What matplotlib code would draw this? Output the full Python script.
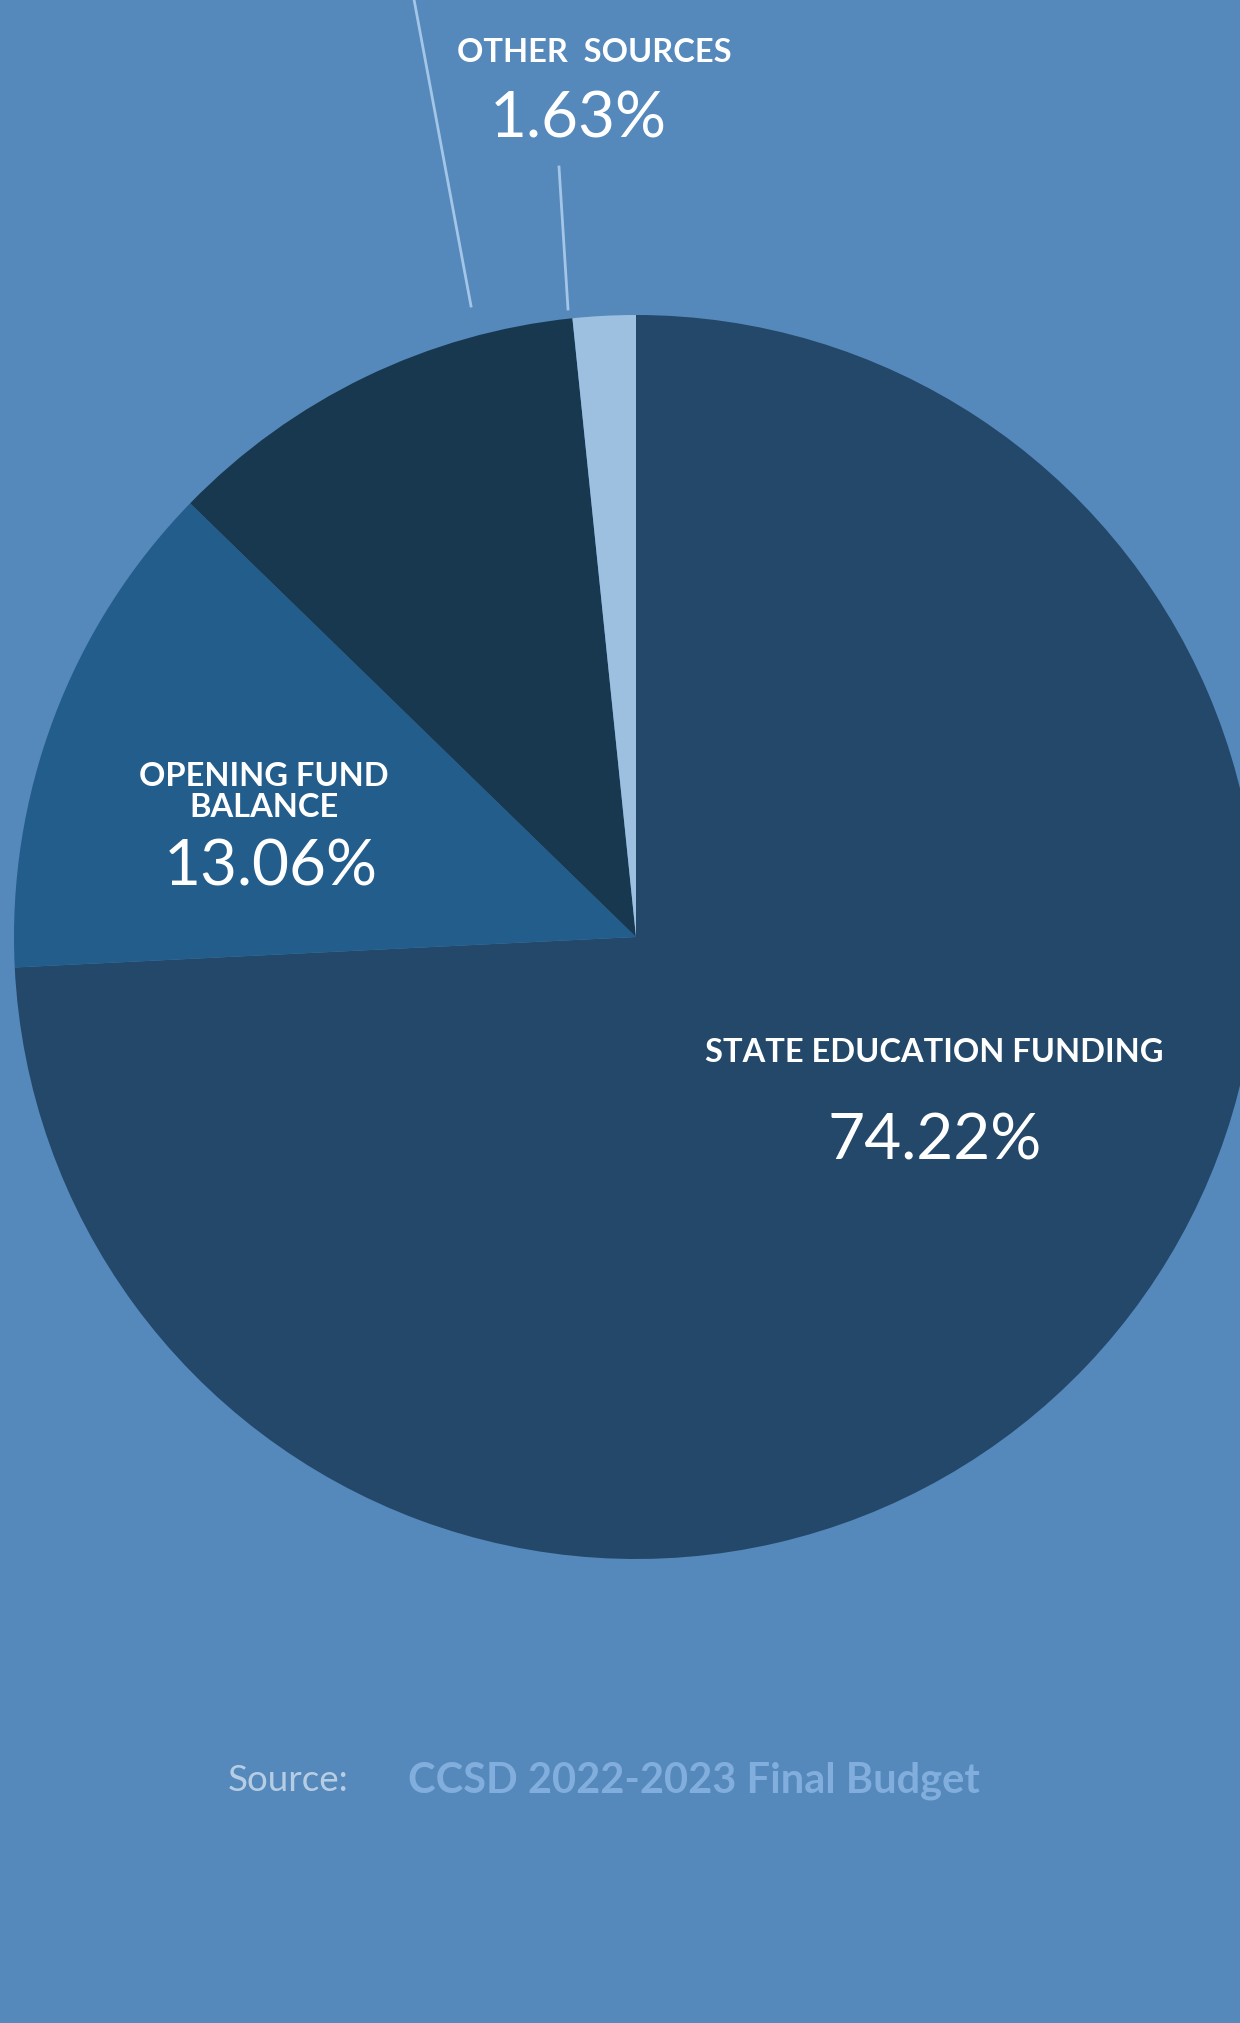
import matplotlib
matplotlib.use("Agg")
import matplotlib.pyplot as plt
import numpy as np

# Dane wykresu
labels = ["STATE EDUCATION FUNDING", "OPENING FUND\nBALANCE", "", "OTHER  SOURCES"]
shares = [74.22, 13.06, 11.09, 1.63]
pct_labels = ["74.22%", "13.06%", "", "1.63%"]
colors = ["#234869", "#235D8B", "#18384F", "#9DC0E0"]

W, H = 1240, 2024
bg = "#5588BB"

fig = plt.figure(figsize=(W / 100, H / 100), dpi=100)
fig.patch.set_facecolor(bg)
ax = fig.add_axes([0, 0, 1, 1])
ax.set_facecolor(bg)


def Y(y):
    # zamiana wspolrzednej obrazka (od gory) na wspolrzedna osi
    return H - y


cx, cy, r = 636, 938, 622
ax.pie(shares, colors=colors, startangle=90, counterclock=False,
       center=(cx, Y(cy)), radius=r, wedgeprops=dict(linewidth=0))

# linie odnosnikow
line_c = "#A3C6E8"
ax.plot([471, 413], [Y(307), Y(-5)], color=line_c, lw=2)
ax.plot([568, 559], [Y(310), Y(168)], color=line_c, lw=2)

fam = ["Lato", "DejaVu Sans"]
# etykiety
ax.text(594, Y(52), labels[3], color="white", fontsize=23.5, fontweight="bold",
        family=fam, ha="center", va="center")
ax.text(578, Y(119), pct_labels[3], color="white", fontsize=46, fontweight="normal",
        family=fam, ha="center", va="center")

ax.text(264, Y(792), labels[1], color="white", fontsize=23.5, fontweight="bold",
        family=fam, ha="center", va="center", linespacing=1.05)
ax.text(271, Y(868), pct_labels[1], color="white", fontsize=46, fontweight="normal",
        family=fam, ha="center", va="center")

ax.text(934, Y(1052), labels[0], color="white", fontsize=23.5, fontweight="bold",
        family=fam, ha="center", va="center")
ax.text(935, Y(1142), pct_labels[0], color="white", fontsize=46, fontweight="normal",
        family=fam, ha="center", va="center")

# zrodlo
ax.text(288, Y(1781), "Source:", color="#C9DAEC", fontsize=26.5, family=fam,
        ha="center", va="center", alpha=0.85)
ax.text(694, Y(1781), "CCSD 2022-2023 Final Budget", color="#82AEDD", fontsize=30,
        fontweight="bold", family=fam, ha="center", va="center")

ax.set_xlim(0, W)
ax.set_ylim(0, H)
ax.set_aspect("auto")
ax.axis("off")

fig.savefig("out.png", dpi=100, facecolor=bg)
